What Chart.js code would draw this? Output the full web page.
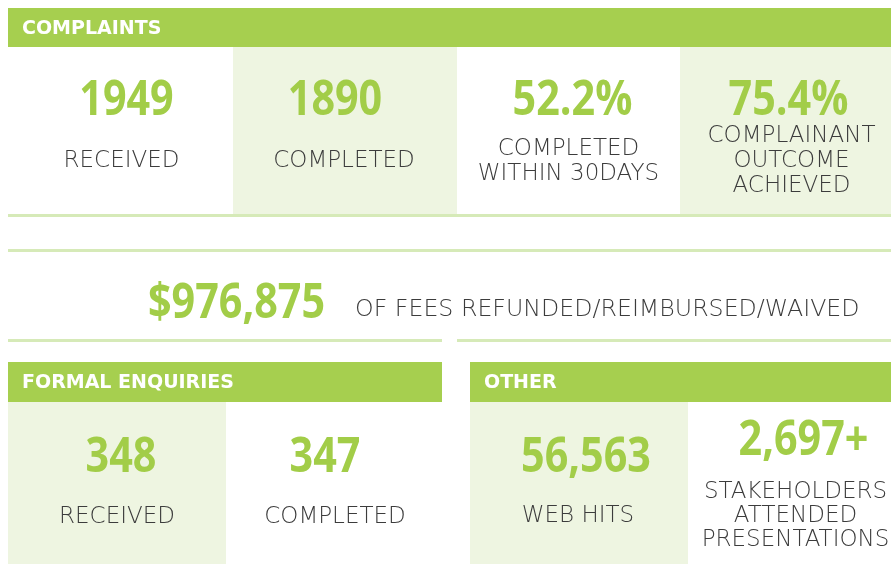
<!DOCTYPE html>
<html>
<head>
<meta charset="utf-8">
<script src="https://cdn.jsdelivr.net/npm/chart.js@4"></script>
<style>
  html, body { margin: 0; padding: 0; background: #ffffff; }
  #wrap { width: 891px; height: 564px; }
</style>
</head>
<body>
<div id="wrap"><canvas id="c" width="891" height="564"></canvas></div>
<script>
// ---- data ----
const sectionTitles = ['COMPLAINTS', 'FORMAL ENQUIRIES', 'OTHER'];
const complaintValues = ['1949', '1890', '52.2%', '75.4%'];
const complaintLabels = [['RECEIVED'], ['COMPLETED'], ['COMPLETED', 'WITHIN 30DAYS'], ['COMPLAINANT', 'OUTCOME', 'ACHIEVED']];
const feesValue = '$976,875';
const feesLabel = 'OF FEES REFUNDED/REIMBURSED/WAIVED';
const enquiryValues = ['348', '347'];
const enquiryLabels = [['RECEIVED'], ['COMPLETED']];
const otherValues = ['56,563', '2,697+'];
const otherLabels = [['WEB HITS'], ['STAKEHOLDERS', 'ATTENDED', 'PRESENTATIONS']];

// ---- layout (positions only) ----
const complaintNumShift = [6, -10, 4, 3];
const complaintLabelShift = [1, -1, 0, 6];
const enquiryNumShift = [4, -9];
const enquiryLabelShift = [0, 1];
const otherNumShift = [7, 14];
const otherLabelShift = [-1, 6];

// ---- style ----
const GREEN = '#a6cf4f';
const NUM_GREEN = '#a2cd48';
const TILE_LIGHT = '#eef5e1';
const LINE_GREEN = '#d6eab8';
const LABEL_COLOR = '#3c3c3c';
const NUM_FONT = 'bold 48px "Open Sans", sans-serif';
const NUM_SQUEEZE = 0.86;
const LABEL_FONT = '200 23px "DejaVu Sans", sans-serif';
const FEES_LABEL_FONT = '200 23.7px "DejaVu Sans", sans-serif';
const HEAD_FONT = 'bold 19px "DejaVu Sans", sans-serif';

function drawNumber(ctx, text, x, y, align) {
  ctx.save();
  ctx.font = NUM_FONT;
  ctx.fillStyle = NUM_GREEN;
  ctx.textAlign = align;
  ctx.textBaseline = 'alphabetic';
  ctx.translate(x, y);
  ctx.scale(NUM_SQUEEZE, 1);
  ctx.fillText(text, 0, 0);
  ctx.restore();
}

function drawHeader(ctx, x, y, w, h, title) {
  ctx.fillStyle = GREEN;
  ctx.fillRect(x, y, w, h);
  ctx.save();
  ctx.font = HEAD_FONT;
  ctx.fillStyle = '#ffffff';
  ctx.textAlign = 'left';
  ctx.textBaseline = 'alphabetic';
  ctx.fillText(title, x + 14, y + 26);
  ctx.restore();
}

function drawTiles(ctx, edges, top, bottom, shades, values, labels, numShift, labShift, numBases, labelMid, lineH) {
  for (let i = 0; i < values.length; i++) {
    const x0 = edges[i], x1 = edges[i + 1];
    if (shades[i]) { ctx.fillStyle = TILE_LIGHT; ctx.fillRect(x0, top, x1 - x0, bottom - top); }
    const cx = (x0 + x1) / 2;
    drawNumber(ctx, values[i], cx + numShift[i], numBases[i], 'center');
    ctx.font = LABEL_FONT;
    ctx.fillStyle = LABEL_COLOR;
    ctx.textAlign = 'center';
    ctx.textBaseline = 'alphabetic';
    const lines = labels[i];
    const start = labelMid - (lines.length - 1) * lineH / 2;
    lines.forEach((ln, k) => ctx.fillText(ln, cx + labShift[i], start + k * lineH + 8));
  }
}

const infographic = {
  id: 'infographic',
  afterDraw(chart) {
    const ctx = chart.ctx;
    ctx.save();
    ctx.fillStyle = '#ffffff';
    ctx.fillRect(0, 0, 891, 564);

    // Complaints
    drawHeader(ctx, 8, 8, 883, 39, sectionTitles[0]);
    drawTiles(ctx, [8, 233, 457, 680, 891], 47, 214, [false, true, false, true],
      complaintValues, complaintLabels, complaintNumShift, complaintLabelShift,
      [115, 115, 115, 115], 159, 25);
    ctx.fillStyle = LINE_GREEN;
    ctx.fillRect(8, 214, 883, 3);
    ctx.fillRect(8, 249, 883, 3);

    // Fees
    drawNumber(ctx, feesValue, 148, 318, 'left');
    ctx.font = FEES_LABEL_FONT;
    ctx.fillStyle = LABEL_COLOR;
    ctx.textAlign = 'left';
    ctx.fillText(feesLabel, 355, 316);
    ctx.fillStyle = LINE_GREEN;
    ctx.fillRect(8, 339, 434, 3);
    ctx.fillRect(457, 339, 434, 3);

    // Formal enquiries
    drawHeader(ctx, 8, 362, 434, 40, sectionTitles[1]);
    drawTiles(ctx, [8, 226, 442], 402, 564, [true, false],
      enquiryValues, enquiryLabels, enquiryNumShift, enquiryLabelShift, [472, 472], 515, 24);

    // Other
    drawHeader(ctx, 470, 362, 421, 40, sectionTitles[2]);
    drawTiles(ctx, [470, 688, 891], 402, 564, [true, false],
      otherValues, otherLabels, otherNumShift, otherLabelShift, [472, 455], 514, 24);
    ctx.restore();
  }
};

new Chart(document.getElementById('c'), {
  type: 'bar',
  data: { labels: [], datasets: [] },
  options: {
    responsive: false,
    devicePixelRatio: 1,
    animation: false,
    events: [],
    scales: { x: { display: false }, y: { display: false } },
    plugins: { legend: { display: false }, tooltip: { enabled: false } }
  },
  plugins: [infographic]
});
</script>
</body>
</html>
